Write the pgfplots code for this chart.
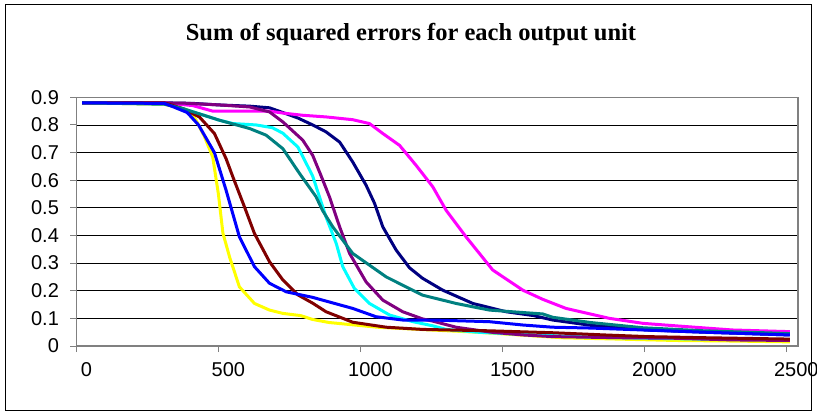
\documentclass[border=0pt]{standalone}
\usepackage{fontspec}
\setmainfont{Liberation Serif}
\setsansfont{Liberation Sans}
\usepackage{pgfplots}
\pgfplotsset{compat=1.18}
\definecolor{snavy}{HTML}{000080}
\definecolor{smagenta}{HTML}{FF00FF}
\definecolor{syellow}{HTML}{FFFF00}
\definecolor{scyan}{HTML}{00FFFF}
\definecolor{spurple}{HTML}{800080}
\definecolor{smaroon}{HTML}{800000}
\definecolor{steal}{HTML}{008080}
\definecolor{sblue}{HTML}{0000FF}
\definecolor{axgray}{HTML}{808080}
\begin{document}
\begin{tikzpicture}[x=1bp,y=1bp]
\useasboundingbox (0,0) rectangle (817,415);
\draw[black, line width=1bp] (5.5,4.5) rectangle (811.5,410.5);
\node[font=\fontsize{24.5bp}{28bp}\selectfont\bfseries] at (411,381) {Sum of squared errors for each output unit};
\begin{axis}[
  at={(76.4bp,69bp)}, anchor=south west,
  scale only axis, width=721.6bp, height=248.7bp,
  xmin=0, xmax=2541, ymin=0, ymax=0.9,
  xtick={0,500,1000,1500,2000,2500},
  ytick={0,0.1,0.2,0.3,0.4,0.5,0.6,0.7,0.8,0.9},
  yticklabels={0,0.1,0.2,0.3,0.4,0.5,0.6,0.7,0.8,0.9},
  xticklabels={0,500,1000,1500,2000,2500},
  ymajorgrids,
  major grid style={black, line width=0.8bp},
  axis line style={axgray, line width=1.2bp},
  tick style={axgray, line width=1bp},
  tick align=outside, major tick length=6bp,
  xtick pos=left, ytick pos=left,
  tick label style={font=\sffamily\fontsize{20bp}{24bp}\selectfont},
  xticklabel style={anchor=north, xshift=10bp, yshift=-7bp},
  yticklabel style={anchor=east, xshift=-8bp},
  every axis plot/.append style={line width=3bp, line join=round, mark=none},
  clip=false,
]
% navy
\addplot[snavy] coordinates {(20,0.88)(310,0.88)(410,0.878)(510,0.872)(610,0.868)(680,0.862)(727,0.845)(780,0.825)(832,0.80)(879,0.775)(927,0.738)(973,0.666)(1020,0.582)(1050,0.516)(1079,0.431)(1126,0.347)(1173,0.283)(1219,0.245)(1290,0.202)(1396,0.154)(1513,0.124)(1610,0.11)(1677,0.094)(1810,0.075)(2010,0.058)(2210,0.05)(2512,0.04)};
% magenta
\addplot[smagenta] coordinates {(20,0.88)(310,0.88)(410,0.87)(480,0.85)(530,0.85)(680,0.85)(727,0.843)(797,0.835)(879,0.829)(973,0.819)(1032,0.805)(1079,0.769)(1138,0.726)(1196,0.654)(1255,0.576)(1302,0.491)(1372,0.395)(1466,0.275)(1572,0.202)(1642,0.169)(1724,0.136)(1877,0.10)(1995,0.082)(2124,0.072)(2310,0.058)(2512,0.052)};
% yellow
\addplot[syellow] coordinates {(20,0.88)(310,0.875)(390,0.855)(420,0.82)(450,0.76)(480,0.684)(500,0.55)(516,0.408)(540,0.32)(574,0.214)(627,0.154)(680,0.13)(727,0.118)(790,0.11)(832,0.096)(890,0.085)(960,0.078)(1060,0.068)(1210,0.06)(1410,0.05)(1560,0.04)(1710,0.03)(1910,0.025)(2110,0.02)(2310,0.018)(2512,0.015)};
% cyan
\addplot[scyan] coordinates {(20,0.88)(310,0.877)(375,0.859)(504,0.817)(551,0.805)(633,0.80)(690,0.79)(727,0.77)(780,0.72)(832,0.615)(879,0.467)(915,0.371)(938,0.287)(979,0.208)(1032,0.154)(1103,0.112)(1185,0.088)(1255,0.073)(1302,0.06)(1410,0.05)(1610,0.04)(1810,0.032)(2010,0.028)(2210,0.025)(2512,0.022)};
% purple
\addplot[spurple] coordinates {(20,0.88)(375,0.879)(510,0.872)(610,0.865)(680,0.847)(727,0.811)(797,0.745)(832,0.69)(860,0.62)(891,0.54)(927,0.431)(962,0.335)(1020,0.232)(1079,0.166)(1149,0.124)(1219,0.098)(1255,0.09)(1337,0.068)(1460,0.05)(1572,0.04)(1677,0.034)(1910,0.03)(2110,0.028)(2310,0.022)(2512,0.02)};
% maroon
\addplot[smaroon] coordinates {(20,0.88)(310,0.88)(375,0.859)(433,0.829)(486,0.769)(527,0.678)(551,0.612)(592,0.503)(627,0.407)(680,0.305)(727,0.239)(780,0.185)(832,0.155)(879,0.124)(973,0.086)(1091,0.068)(1219,0.06)(1454,0.055)(1677,0.048)(1860,0.04)(2010,0.034)(2210,0.03)(2512,0.025)};
% teal
\addplot[steal] coordinates {(20,0.88)(310,0.875)(375,0.859)(504,0.817)(610,0.787)(668,0.763)(727,0.714)(786,0.624)(844,0.54)(867,0.49)(903,0.431)(973,0.335)(1091,0.25)(1219,0.184)(1337,0.154)(1454,0.13)(1642,0.116)(1677,0.104)(1810,0.085)(1995,0.066)(2210,0.055)(2512,0.045)};
% blue
\addplot[sblue] coordinates {(20,0.88)(310,0.878)(340,0.866)(390,0.845)(430,0.80)(486,0.70)(527,0.564)(574,0.395)(627,0.287)(680,0.227)(739,0.196)(832,0.176)(867,0.166)(973,0.136)(1055,0.106)(1149,0.094)(1255,0.094)(1454,0.088)(1572,0.076)(1677,0.068)(1810,0.065)(1995,0.058)(2210,0.05)(2512,0.04)};
\end{axis}
\end{tikzpicture}
\end{document}
